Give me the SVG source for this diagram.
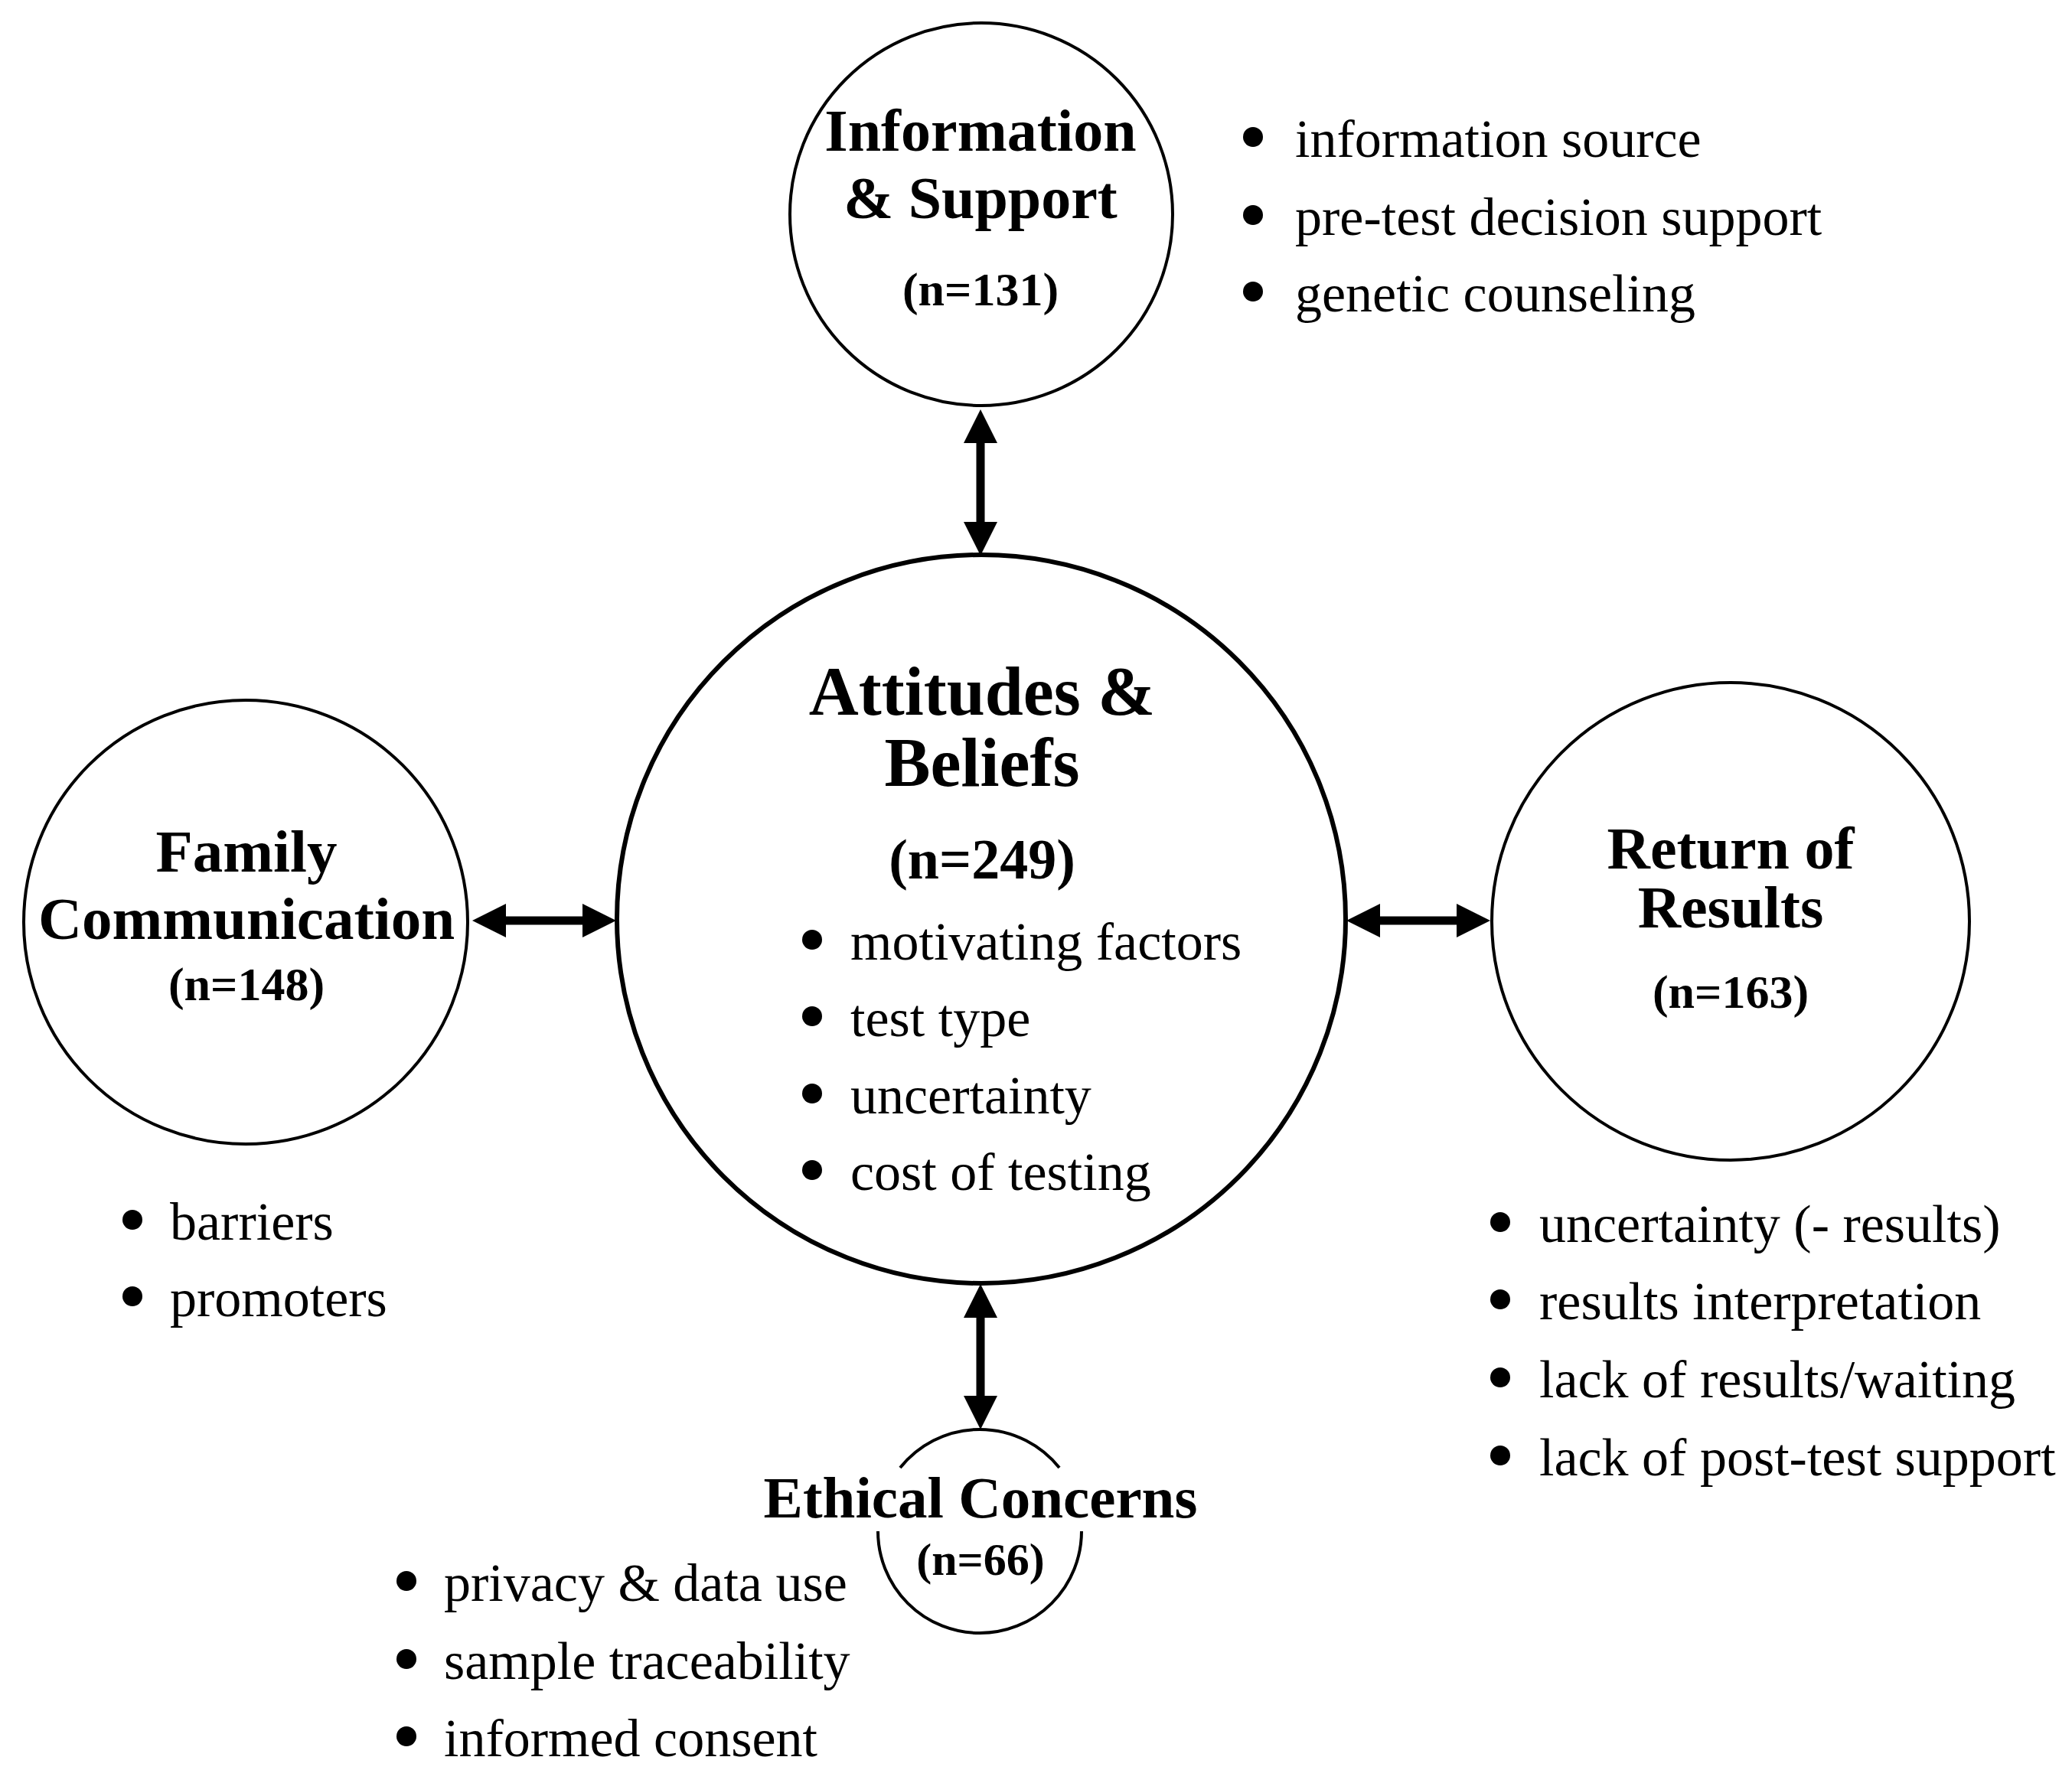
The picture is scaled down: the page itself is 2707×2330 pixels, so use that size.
<svg xmlns="http://www.w3.org/2000/svg" width="2707" height="2330" viewBox="0 0 2707 2330">
<style>
.node{fill:none;stroke:#000;stroke-width:4}
.main{fill:none;stroke:#000;stroke-width:6}
.t{font-family:"Liberation Serif","Times New Roman",serif;font-weight:bold;fill:#000;text-anchor:middle}
.b{font-family:"Liberation Serif","Times New Roman",serif;font-size:70px;fill:#000}
.dot{fill:#000}
.conn{stroke:#000;stroke-width:11;fill:none;marker-start:url(#ah);marker-end:url(#ah)}
</style>
<defs>
<marker id="ah" markerUnits="userSpaceOnUse" markerWidth="46" markerHeight="46" refX="6" refY="22" orient="auto-start-reverse" viewBox="0 0 46 46">
<path d="M0,0 L44,22 L0,44 z" fill="#000"/>
</marker>
</defs>
<rect width="2707" height="2330" fill="#fff"/>

<g id="connectors">
<line class="conn" x1="1281" y1="573" x2="1281" y2="688"/>
<line class="conn" x1="655" y1="1203" x2="767" y2="1203"/>
<line class="conn" x1="1797" y1="1203" x2="1909" y2="1203"/>
<line class="conn" x1="1281" y1="1716" x2="1281" y2="1830"/>
</g>

<g id="attitudes">
<circle class="main" cx="1282" cy="1201" r="476"/>
<text class="t" x="1283" y="934" font-size="90">Attitudes &amp;</text>
<text class="t" x="1283" y="1027" font-size="90">Beliefs</text>
<text class="t" x="1283" y="1148" font-size="74">(n=249)</text>
<circle class="dot" cx="1061" cy="1228" r="13"/>
<text class="b" x="1111" y="1254">motivating factors</text>
<circle class="dot" cx="1061" cy="1328" r="13"/>
<text class="b" x="1111" y="1354">test type</text>
<circle class="dot" cx="1061" cy="1429" r="13"/>
<text class="b" x="1111" y="1455">uncertainty</text>
<circle class="dot" cx="1061" cy="1529" r="13"/>
<text class="b" x="1111" y="1555">cost of testing</text>
</g>

<g id="information">
<circle class="node" cx="1282" cy="280" r="250"/>
<text class="t" x="1281" y="197" font-size="78">Information</text>
<text class="t" x="1281" y="285" font-size="78">&amp; Support</text>
<text class="t" x="1281" y="399" font-size="62">(n=131)</text>
<circle class="dot" cx="1637" cy="179" r="13"/>
<text class="b" x="1692" y="205">information source</text>
<circle class="dot" cx="1637" cy="281" r="13"/>
<text class="b" x="1692" y="307">pre-test decision support</text>
<circle class="dot" cx="1637" cy="381" r="13"/>
<text class="b" x="1692" y="407">genetic counseling</text>
</g>

<g id="family">
<circle class="node" cx="321" cy="1205" r="290"/>
<text class="t" x="322" y="1139" font-size="79">Family</text>
<text class="t" x="322" y="1227" font-size="79">Communication</text>
<text class="t" x="322" y="1307" font-size="62">(n=148)</text>
<circle class="dot" cx="173" cy="1594" r="13"/>
<text class="b" x="222" y="1620">barriers</text>
<circle class="dot" cx="173" cy="1694" r="13"/>
<text class="b" x="222" y="1720">promoters</text>
</g>

<g id="return">
<circle class="node" cx="2261" cy="1204" r="312"/>
<text class="t" x="2261" y="1135" font-size="78">Return of</text>
<text class="t" x="2261" y="1212" font-size="78">Results</text>
<text class="t" x="2261" y="1317" font-size="62">(n=163)</text>
<circle class="dot" cx="1960" cy="1597" r="13"/>
<text class="b" x="2011" y="1623">uncertainty (- results)</text>
<circle class="dot" cx="1960" cy="1698" r="13"/>
<text class="b" x="2011" y="1724">results interpretation</text>
<circle class="dot" cx="1960" cy="1800" r="13"/>
<text class="b" x="2011" y="1826">lack of results/waiting</text>
<circle class="dot" cx="1960" cy="1902" r="13"/>
<text class="b" x="2011" y="1928">lack of post-test support</text>
</g>

<g id="ethical">
<path class="node" d="M1176,1918 A133,133 0 0 1 1384,1918"/>
<path class="node" d="M1147,2001 A133,133 0 0 0 1413,2001"/>
<text class="t" x="1281" y="1983" font-size="77">Ethical Concerns</text>
<text class="t" x="1281" y="2058" font-size="60">(n=66)</text>
<circle class="dot" cx="531" cy="2066" r="13"/>
<text class="b" x="580" y="2092">privacy &amp; data use</text>
<circle class="dot" cx="531" cy="2168" r="13"/>
<text class="b" x="580" y="2194">sample traceability</text>
<circle class="dot" cx="531" cy="2269" r="13"/>
<text class="b" x="580" y="2295">informed consent</text>
</g>
</svg>
